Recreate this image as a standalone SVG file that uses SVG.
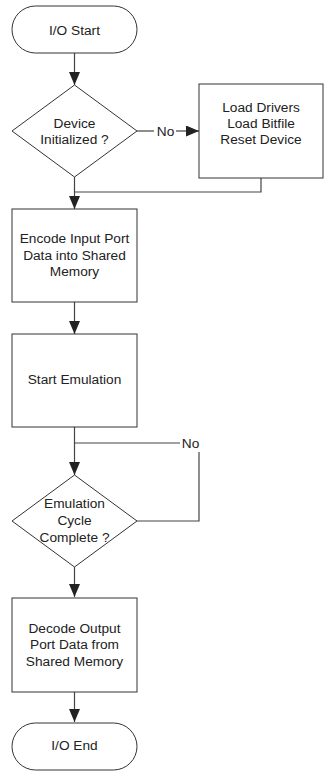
<svg xmlns="http://www.w3.org/2000/svg" width="327" height="772" viewBox="0 0 327 772">
<style>
.n{fill:#fff;stroke:#333;stroke-width:1}
.c{fill:none;stroke:#444;stroke-width:1.2}
text{font-family:"Liberation Sans",Arial,sans-serif;font-size:13.7px;fill:#222;text-anchor:middle;dominant-baseline:central}
</style>
<defs>
<marker id="ah" markerUnits="userSpaceOnUse" markerWidth="13" markerHeight="11" refX="13" refY="5.5" orient="auto">
<path d="M0,0 L13,5.5 L0,11 z" fill="#222"/>
</marker>
</defs>
<rect width="327" height="772" fill="#fff"/>
<g id="connectors">
<line class="c" x1="74.5" y1="53" x2="74.5" y2="85" marker-end="url(#ah)"/>
<line class="c" x1="137" y1="131" x2="154" y2="131"/>
<text x="165.5" y="131">No</text>
<line class="c" x1="176" y1="131" x2="199" y2="131" marker-end="url(#ah)"/>
<polyline class="c" points="261,178 261,192 74.5,192"/>
<line class="c" x1="74.5" y1="177" x2="74.5" y2="209" marker-end="url(#ah)"/>
<line class="c" x1="74.5" y1="302" x2="74.5" y2="334" marker-end="url(#ah)"/>
<line class="c" x1="74.5" y1="427" x2="74.5" y2="475" marker-end="url(#ah)"/>
<polyline class="c" points="137,521 199,521 199,452"/>
<text x="190.5" y="443">No</text>
<line class="c" x1="180" y1="443" x2="74.5" y2="443"/>
<line class="c" x1="74.5" y1="567" x2="74.5" y2="597" marker-end="url(#ah)"/>
<line class="c" x1="74.5" y1="692" x2="74.5" y2="722" marker-end="url(#ah)"/>
</g>
<g id="start">
<rect class="n" x="12" y="6" width="125" height="47" rx="23.5"/>
<text x="74.5" y="30">I/O Start</text>
</g>
<g id="dev-init">
<polygon class="n" points="74.5,85 137,131 74.5,177 12,131"/>
<text x="74.5" y="123">Device</text>
<text x="74.5" y="139">Initialized ?</text>
</g>
<g id="load">
<rect class="n" x="199" y="84" width="124" height="94"/>
<text x="261" y="107">Load Drivers</text>
<text x="261" y="123">Load Bitfile</text>
<text x="261" y="139">Reset Device</text>
</g>
<g id="encode">
<rect class="n" x="12" y="209" width="125" height="93"/>
<text x="74.5" y="238">Encode Input Port</text>
<text x="74.5" y="255">Data into Shared</text>
<text x="74.5" y="271">Memory</text>
</g>
<g id="start-emu">
<rect class="n" x="12" y="334" width="125" height="93"/>
<text x="74.5" y="379">Start Emulation</text>
</g>
<g id="cycle">
<polygon class="n" points="74.5,475 137,521 74.5,567 12,521"/>
<text x="74.5" y="503">Emulation</text>
<text x="74.5" y="520">Cycle</text>
<text x="74.5" y="537">Complete ?</text>
</g>
<g id="decode">
<rect class="n" x="12" y="598" width="125" height="94"/>
<text x="74.5" y="628">Decode Output</text>
<text x="74.5" y="644">Port Data from</text>
<text x="74.5" y="661">Shared Memory</text>
</g>
<g id="end">
<rect class="n" x="12" y="723" width="125" height="47" rx="23.5"/>
<text x="74.5" y="745">I/O End</text>
</g>
</svg>
